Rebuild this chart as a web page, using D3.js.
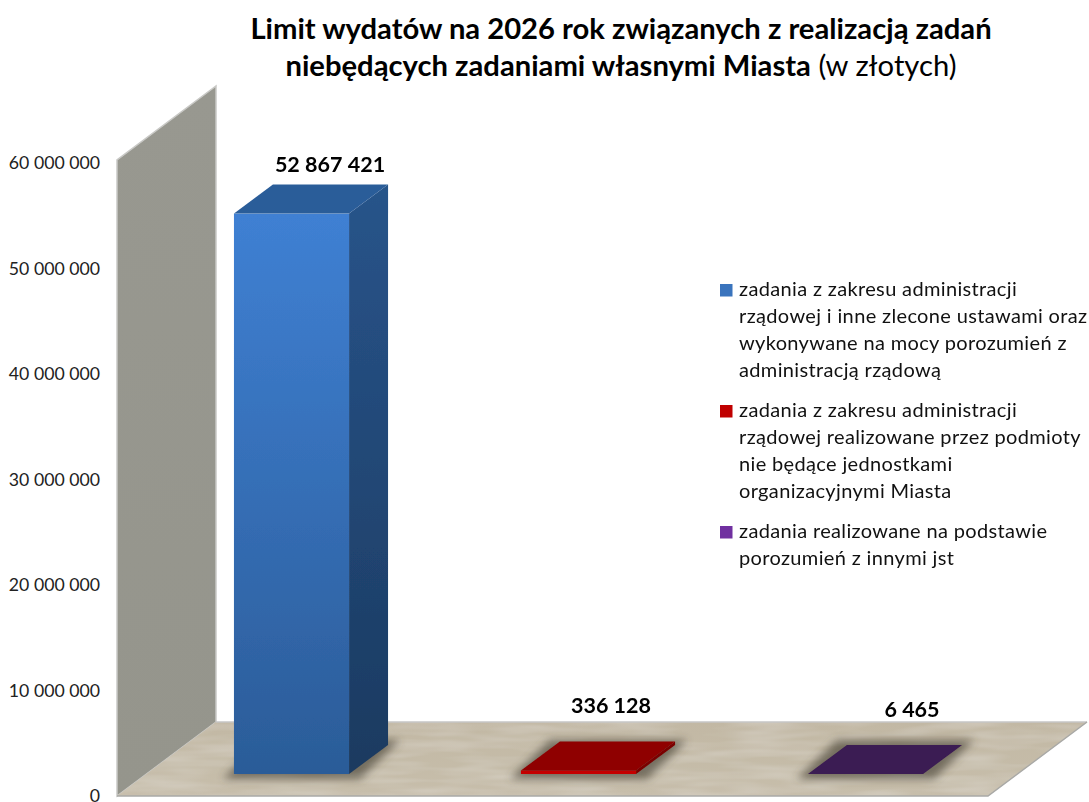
<!DOCTYPE html>
<html lang="pl"><head><meta charset="utf-8">
<style>html,body{margin:0;padding:0;background:#fff;overflow:hidden}svg{display:block}text{font-family:Lato,Carlito,sans-serif}</style>
<script src="https://cdn.jsdelivr.net/npm/d3@7"></script></head><body>
<svg id="c" width="1089" height="802"></svg>
<script>
const categories = ["administracja rządowa","podmioty spoza Miasta","porozumienia z jst"];
const values = [52867421, 336128, 6465];
const valueLabels = ["52 867 421","336 128","6 465"];
const tickValues = [0,10000000,20000000,30000000,40000000,50000000,60000000];
const tickLabels = ["0","10 000 000","20 000 000","30 000 000","40 000 000","50 000 000","60 000 000"];
const legendItems = [
 ["zadania z zakresu administracji","rządowej i inne zlecone ustawami oraz","wykonywane na mocy porozumień z","administracją rządową"],
 ["zadania z zakresu administracji","rządowej realizowane przez podmioty","nie będące jednostkami","organizacyjnymi Miasta"],
 ["zadania realizowane na podstawie","porozumień z innymi jst"]];
const legendColors = ["#3a74bd","#c00000","#7030a0"];

const svg=d3.select("#c");
const y=d3.scaleLinear().domain([0,60000000]).range([796,160]);
const yTick=d3.scaleLinear().domain([0,60000000]).range([794,161]);
const x=d3.scaleBand().domain(categories).range([148,1009]).paddingInner(0.599).paddingOuter(0.2995);
const wall={x:117,dx:99,dy:-74};
const bd={dx:39,dy:-29}, baseLift=22;
const pal=[
 {a:"#3f80d3",b:"#2b5c98",sa:"#28548a",sb:"#1b3a60",top:"#2b5d99"},
 {a:"#c40000",b:"#c40000",sa:"#7a0000",sb:"#7a0000",top:"#8f0000"},
 {a:"#3a1a52",b:"#3a1a52",sa:"#3a1a52",sb:"#3a1a52",top:"#3a1a52"}];
const defs=svg.append("defs");
const lg=(id,c1,c2)=>{const g=defs.append("linearGradient").attr("id",id).attr("x1",0).attr("y1",0).attr("x2",0).attr("y2",1);
 g.append("stop").attr("offset",0).attr("stop-color",c1);g.append("stop").attr("offset",1).attr("stop-color",c2);};
pal.forEach((p,i)=>{lg("f"+i,p.a,p.b);lg("s"+i,p.sa,p.sb);});
lg("wallG","#989890","#95958c");
lg("floorG","#c2b8a4","#c7beab");
defs.append("filter").attr("id","sh").attr("x","-30%").attr("y","-80%").attr("width","160%").attr("height","260%")
 .append("feGaussianBlur").attr("stdDeviation",4);
defs.append("filter").attr("id","soft").attr("x","-5%").attr("y","-5%").attr("width","110%").attr("height","110%")
 .append("feGaussianBlur").attr("stdDeviation",0.5);
const tex=defs.append("filter").attr("id","tex").attr("x",0).attr("y",0).attr("width","100%").attr("height","100%");
tex.append("feTurbulence").attr("type","fractalNoise").attr("baseFrequency","0.015 0.12").attr("numOctaves",2).attr("seed",4).attr("result","n");
tex.append("feColorMatrix").attr("in","n").attr("type","matrix").attr("values","0 0 0 0 1  0 0 0 0 1  0 0 0 0 1  0.35 0 0 0 -0.12").attr("result","w");
tex.append("feComposite").attr("in","w").attr("in2","SourceAlpha").attr("operator","in").attr("result","wc");
const tm=tex.append("feMerge");tm.append("feMergeNode").attr("in","SourceGraphic");tm.append("feMergeNode").attr("in","wc");
const poly=(pts)=>d3.line()(pts)+"Z";

// title
const t=svg.append("text").attr("text-anchor","middle").attr("font-size",29.2).attr("fill","#000");
t.append("tspan").attr("x",621).attr("y",39).attr("font-weight",700).text("Limit wydatów na 2026 rok związanych z realizacją zadań");
const t2=t.append("tspan").attr("x",621).attr("y",76);
t2.append("tspan").attr("font-weight",700).text("niebędących zadaniami własnymi Miasta");
t2.append("tspan").attr("font-weight",400).text(" (w złotych)");

// walls
const g3=svg.append("g").attr("filter","url(#soft)");
const y0=y(0), yT=y(60000000);
const fx1=988;
g3.append("path").attr("d",poly([[wall.x,y0],[wall.x+wall.dx,y0+wall.dy],[wall.x+wall.dx,yT+wall.dy],[wall.x,yT]]))
 .attr("fill","url(#wallG)").attr("stroke","#c9c9c6").attr("stroke-width",1.5);
g3.append("path").attr("d",poly([[wall.x,y0],[wall.x+wall.dx,y0+wall.dy],[fx1+wall.dx,y0+wall.dy],[fx1,y0]]))
 .attr("fill","url(#floorG)").attr("filter","url(#tex)");
g3.append("path").attr("d",d3.line()([[wall.x+wall.dx,y0+wall.dy],[fx1+wall.dx,y0+wall.dy]])).attr("stroke","#c6c6c6").attr("stroke-width",1.5).attr("fill","none");
g3.append("path").attr("d",d3.line()([[wall.x,y0],[fx1,y0],[fx1+wall.dx,y0+wall.dy]])).attr("stroke","#a9a9a6").attr("stroke-width",1.5).attr("fill","none");

// bars
const bw=x.bandwidth(), base=y0-baseLift;
const gb=g3.selectAll("g.bar").data(values).join("g").attr("class","bar");
gb.each(function(v,i){
 const g=d3.select(this),L=x(categories[i]),R=L+bw,h=y0-y(v),T=base-h;
 g.append("path").attr("d",poly([[L-11,base+5],[L+bd.dx-10,base+bd.dy-5],[R+bd.dx+12,base+bd.dy-5],[R+11,base+5]]))
  .attr("fill","#3f3a2e").attr("opacity",.62).attr("filter","url(#sh)");
 g.append("path").attr("d",poly([[R,base],[R+bd.dx,base+bd.dy],[R+bd.dx,T+bd.dy],[R,T]])).attr("fill",`url(#s${i})`);
 if(h>1) g.append("rect").attr("x",L).attr("y",T).attr("width",bw).attr("height",h).attr("fill",`url(#f${i})`);
 g.append("path").attr("d",poly([[L,T],[L+bd.dx,T+bd.dy],[R+bd.dx,T+bd.dy],[R,T]])).attr("fill",pal[i].top);
});

// value labels
const labelDx=[38.5,32.5,46.5];
svg.selectAll("text.val").data(values).join("text").attr("class","val")
 .attr("text-anchor","middle").attr("font-size",21.5).attr("font-weight",700).attr("fill","#000")
 .attr("x",(d,i)=>x(categories[i])+bw/2+labelDx[i])
 .attr("y",(d,i)=>{const top=base-(y0-y(d))+bd.dy;return (i===0?top-20:top-35)+7;})
 .text((d,i)=>valueLabels[i]);

// axis
const ax=d3.axisLeft(yTick).tickValues(tickValues).tickSize(0).tickPadding(0).tickFormat((d,i)=>tickLabels[i]);
const ag=svg.append("g").attr("transform","translate(100,2)").call(ax);
ag.select(".domain").remove();
ag.selectAll("text").attr("font-size",17.7).attr("fill","#222").style("font-family","Lato,Carlito,sans-serif");

// legend
const lh=27, gap=13;
let ly=296;
const lg2=svg.append("g");
legendItems.forEach((lines,i)=>{
 lg2.append("rect").attr("x",720).attr("y",ly-12).attr("width",12.5).attr("height",12.5).attr("fill",legendColors[i]);
 lines.forEach((s,j)=>lg2.append("text").attr("x",739).attr("y",ly+j*lh).attr("font-size",20).attr("letter-spacing",0.35).attr("fill","#111").text(s));
 ly+=lines.length*lh+gap;
});
</script></body></html>
